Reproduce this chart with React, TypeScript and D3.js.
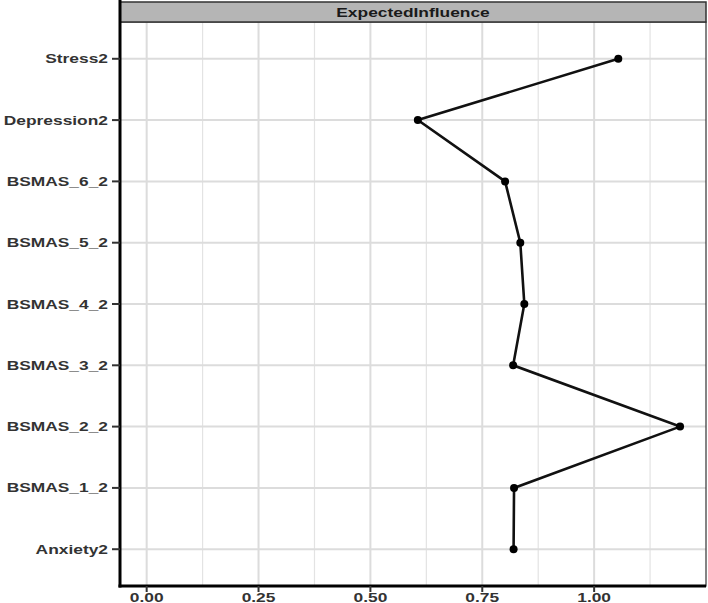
import React, { useEffect, useRef } from 'react'
import * as d3 from 'd3'

const nodes = ['Stress2', 'Depression2', 'BSMAS_6_2', 'BSMAS_5_2', 'BSMAS_4_2', 'BSMAS_3_2', 'BSMAS_2_2', 'BSMAS_1_2', 'Anxiety2']
const influence = [1.054, 0.606, 0.801, 0.835, 0.844, 0.819, 1.192, 0.821, 0.82]
const xTicks = [0, 0.25, 0.5, 0.75, 1.0]
const xMinor = [0.125, 0.375, 0.625, 0.875, 1.125]
const stripTitle = 'ExpectedInfluence'

export default function App() {
  const svgRef = useRef<SVGSVGElement>(null)

  useEffect(() => {
    const svg = d3.select(svgRef.current)
    svg.selectAll('*').remove()

    const width = 708
    const height = 603
    const left = 120
    const right = 706
    const top = 22
    const bottom = 586
    const stretch = 1.39
    const font = 'Liberation Sans, Arial, sans-serif'

    const x = d3.scaleLinear().domain([-0.0596, 1.25]).range([left, right])
    const y = d3.scalePoint<string>().domain(nodes).range([top, bottom]).padding(0.6)

    svg.attr('width', width).attr('height', height)

    // panel background
    svg.append('rect')
      .attr('x', left).attr('y', top)
      .attr('width', right - left).attr('height', bottom - top)
      .attr('fill', '#fff')

    // minor grid
    svg.append('g').selectAll('line')
      .data(xMinor)
      .join('line')
      .attr('x1', d => x(d)).attr('x2', d => x(d))
      .attr('y1', top).attr('y2', bottom)
      .attr('stroke', '#e3e3e3').attr('stroke-width', 1.2)

    // major grid
    svg.append('g').selectAll('line')
      .data(xTicks)
      .join('line')
      .attr('x1', d => x(d)).attr('x2', d => x(d))
      .attr('y1', top).attr('y2', bottom)
      .attr('stroke', '#dcdcdc').attr('stroke-width', 2)

    svg.append('g').selectAll('line')
      .data(nodes)
      .join('line')
      .attr('x1', left).attr('x2', right)
      .attr('y1', d => y(d)!).attr('y2', d => y(d)!)
      .attr('stroke', '#dcdcdc').attr('stroke-width', 2)

    // panel border
    svg.append('rect')
      .attr('x', left).attr('y', top)
      .attr('width', right - left).attr('height', bottom - top)
      .attr('fill', 'none').attr('stroke', '#333').attr('stroke-width', 1.2)

    // strip
    svg.append('rect')
      .attr('x', left).attr('y', 2)
      .attr('width', right - left).attr('height', top - 2)
      .attr('fill', '#b5b5b5').attr('stroke', '#333').attr('stroke-width', 1.5)

    svg.append('g')
      .attr('transform', `translate(${(left + right) / 2},17) scale(${stretch},1)`)
      .append('text')
      .attr('text-anchor', 'middle')
      .attr('font-family', font).attr('font-weight', 'bold').attr('font-size', 12.5)
      .attr('fill', '#1a1a1a')
      .text(stripTitle)

    // axis lines
    svg.append('line')
      .attr('x1', left).attr('x2', left).attr('y1', 0).attr('y2', bottom + 1.5)
      .attr('stroke', '#000').attr('stroke-width', 3)
    svg.append('line')
      .attr('x1', left - 1.5).attr('x2', right).attr('y1', bottom).attr('y2', bottom)
      .attr('stroke', '#000').attr('stroke-width', 3)

    // y ticks + labels
    const yt = svg.append('g').selectAll('g')
      .data(nodes)
      .join('g')
      .attr('transform', d => `translate(0,${y(d)})`)
    yt.append('line')
      .attr('x1', 112).attr('x2', left).attr('stroke', '#333').attr('stroke-width', 2)
    yt.append('g')
      .attr('transform', `translate(108,4.5) scale(${stretch},1)`)
      .append('text')
      .attr('text-anchor', 'end')
      .attr('font-family', font).attr('font-weight', 'bold').attr('font-size', 12.5)
      .attr('fill', '#333')
      .text(d => d)

    // x ticks + labels
    const xt = svg.append('g').selectAll('g')
      .data(xTicks)
      .join('g')
      .attr('transform', d => `translate(${x(d)},0)`)
    xt.append('line')
      .attr('y1', bottom).attr('y2', bottom + 6).attr('stroke', '#333').attr('stroke-width', 2)
    xt.append('g')
      .attr('transform', `translate(0,602) scale(${stretch},1)`)
      .append('text')
      .attr('text-anchor', 'middle')
      .attr('font-family', font).attr('font-weight', 'bold').attr('font-size', 12.5)
      .attr('fill', '#333')
      .text(d => d3.format('.2f')(d))

    // line + points
    const data = nodes.map((n, i) => ({ node: n, value: influence[i] }))
    const line = d3.line<{ node: string, value: number }>()
      .x(d => x(d.value))
      .y(d => y(d.node)!)

    svg.append('path')
      .datum(data)
      .attr('d', line)
      .attr('fill', 'none')
      .attr('stroke', '#111')
      .attr('stroke-width', 2.6)

    svg.append('g').selectAll('circle')
      .data(data)
      .join('circle')
      .attr('cx', d => x(d.value))
      .attr('cy', d => y(d.node)!)
      .attr('r', 4)
      .attr('fill', '#000')
  }, [])

  return (
    <svg
      ref={svgRef}
      style={{ position: 'absolute', left: 0, top: 0, display: 'block' }}
    />
  )
}
